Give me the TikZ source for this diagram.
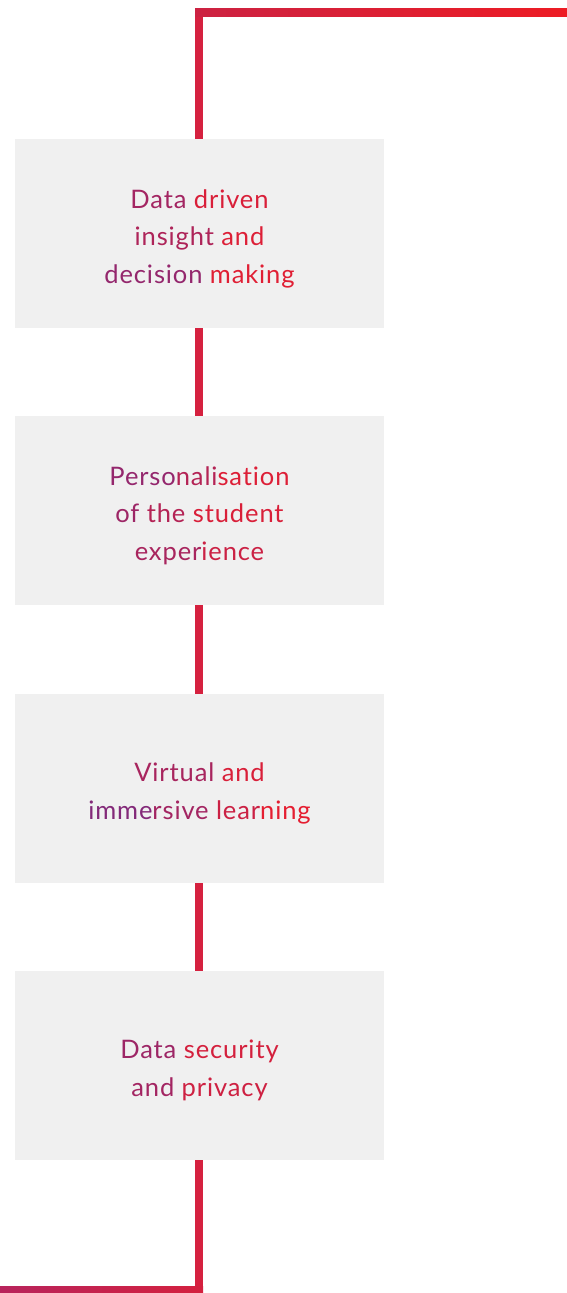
\documentclass[tikz,border=0pt]{standalone}
\usepackage{fontspec}
\setmainfont{Lato}[Ligatures={NoCommon,NoDiscretionary}, LetterSpace=3.5]
\definecolor{gA}{HTML}{7A2A80}
\definecolor{gB}{HTML}{EE1D2A}
\definecolor{boxgray}{HTML}{F0F0F0}
\definecolor{lineC}{HTML}{D5213F}
\definecolor{topL}{HTML}{CC2242}
\definecolor{topR}{HTML}{ED1C24}
\definecolor{botL}{HTML}{B8245C}
\definecolor{botR}{HTML}{D4213F}
\newcommand{\gc}[2]{\textcolor{gB!#1!gA}{#2}}
\tikzset{
  stage/.style={fill=boxgray, minimum width=369pt, minimum height=189pt, inner sep=0pt},
  label text/.style={align=center, font=\fontsize{25.5}{37.5}\selectfont, inner sep=0pt},
  link/.style={draw=lineC, line width=8pt}
}
\begin{document}
\begin{tikzpicture}[x=1pt,y=-1pt]
\useasboundingbox (0,0) rectangle (567,1293);
\node[stage] (b1) at (199.5,233.5) {};
\node[stage] (b2) at (199.5,510.5) {};
\node[stage] (b3) at (199.5,788.5) {};
\node[stage] (b4) at (199.5,1065.5) {};
\node[label text] (t1) at ([yshift=-5pt]b1.center) {\gc{35}{Data} \gc{82}{driven}\\\gc{45}{insight} \gc{85}{and}\\\gc{22}{decision} \gc{88}{making}};
\node[label text] (t2) at ([yshift=-5pt]b2.center) {\gc{22}{Perso}\gc{50}{nali}\gc{85}{sation}\\\gc{30}{of} \gc{50}{the} \gc{82}{student}\\\gc{40}{exper}\gc{70}{ience}};
\node[label text] (t3) at ([yshift=-5pt]b3.center) {\gc{40}{Virtual} \gc{82}{and}\\\gc{8}{imme}\gc{35}{rsive} \gc{70}{lear}\gc{92}{ning}};
\node[label text] (t4) at ([yshift=-5pt]b4.center) {\gc{30}{Data} \gc{78}{security}\\\gc{35}{and} \gc{72}{privacy}};
\coordinate (tl) at (199,8);
\coordinate (bl) at (199,1293);
\draw[link] (tl) -- (b1.north -| tl);
\draw[link] (b1.south -| tl) -- (b2.north -| tl);
\draw[link] (b2.south -| tl) -- (b3.north -| tl);
\draw[link] (b3.south -| tl) -- (b4.north -| tl);
\draw[link] (b4.south -| tl) -- (bl);
\shade[left color=topL, right color=topR] (195,8) rectangle (567,16);
\shade[left color=botL, right color=botR] (0,1286) rectangle (203,1293);
\end{tikzpicture}
\end{document}
